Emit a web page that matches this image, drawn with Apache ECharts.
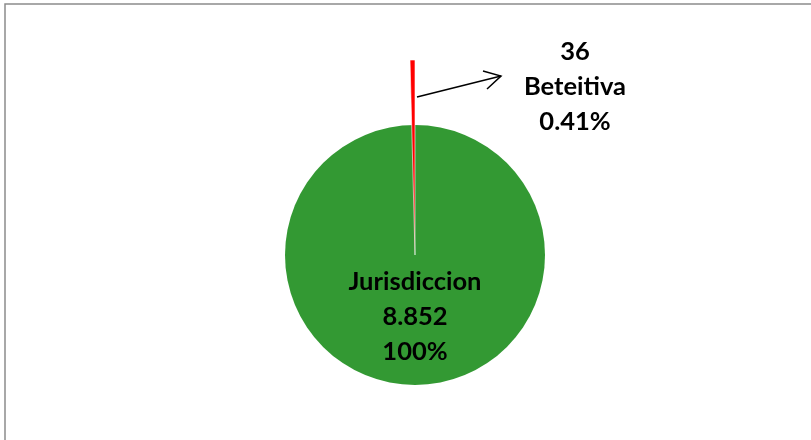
<!DOCTYPE html>
<html>
<head>
<meta charset="utf-8">
<script src="https://cdn.jsdelivr.net/npm/echarts@6/dist/echarts.min.js"></script>
<style>
    html, body { margin: 0; padding: 0; background: #fff; }
    #chartPie { width: 811px; height: 440px; }
</style>
</head>
<body>
<div id="chartPie"></div>
<script>
var totalName = 'Jurisdiccion';
var totalValue = 8852;
var totalLabel = ['8.852', '100%'];
var partName = 'Beteitiva';
var partValue = 36;
var partLabel = ['36', '0.41%'];

var myPie = echarts.init(document.getElementById('chartPie'));

var labelFont = {
    fontFamily: 'Lato',
    fontWeight: 'bold',
    fontSize: 25.5,
    lineHeight: 35,
    color: '#000'
};

var option = {
    backgroundColor: '#fff',
    animation: false,
    graphic: [{
        type: 'rect',
        shape: { x: 5, y: 4, width: 830, height: 460 },
        style: { fill: 'none', stroke: '#8c8c8c', lineWidth: 1.5 }
    }, {
        // flecha hacia la etiqueta
        type: 'polyline',
        shape: { points: [[417, 97], [501, 76]] },
        style: { stroke: '#000', lineWidth: 1.5, fill: 'none' }
    }, {
        type: 'polyline',
        shape: { points: [[483, 71], [501, 76], [487, 89]] },
        style: { stroke: '#000', lineWidth: 1.5, fill: 'none' }
    }],
    series: [{
        name: 'total',
        type: 'pie',
        center: [415, 255],
        radius: [0, 130],
        startAngle: 90,
        silent: true,
        label: Object.assign({
            position: 'inside',
            formatter: function (p) {
                return p.name + '\n' + totalLabel.join('\n');
            }
        }, labelFont),
        labelLine: { show: false },
        labelLayout: { x: 415, y: 317, align: 'center', verticalAlign: 'middle' },
        data: [{ name: totalName, value: totalValue, itemStyle: { color: '#339933' } }]
    }, {
        name: 'parte',
        type: 'pie',
        center: [415, 255],
        radius: [0, 195],
        startAngle: 90,
        silent: true,
        label: Object.assign({
            show: true,
            position: 'outside',
            align: 'center',
            formatter: function (p) {
                if (p.name !== partName) return '';
                return partLabel[0] + '\n' + p.name + '\n' + partLabel[1];
            }
        }, labelFont),
        labelLine: { show: false },
        labelLayout: function (params) {
            if (params.dataIndex !== 1) return {};
            return { x: 575, y: 87, align: 'center', verticalAlign: 'middle' };
        },
        data: [
            { name: 'resto', value: totalValue - partValue, itemStyle: { color: 'transparent' }, label: { show: false } },
            { name: partName, value: partValue, itemStyle: { color: '#ff0000', borderColor: '#fff', borderWidth: 0.6 } }
        ]
    }]
};

myPie.setOption(option);
</script>
</body>
</html>
